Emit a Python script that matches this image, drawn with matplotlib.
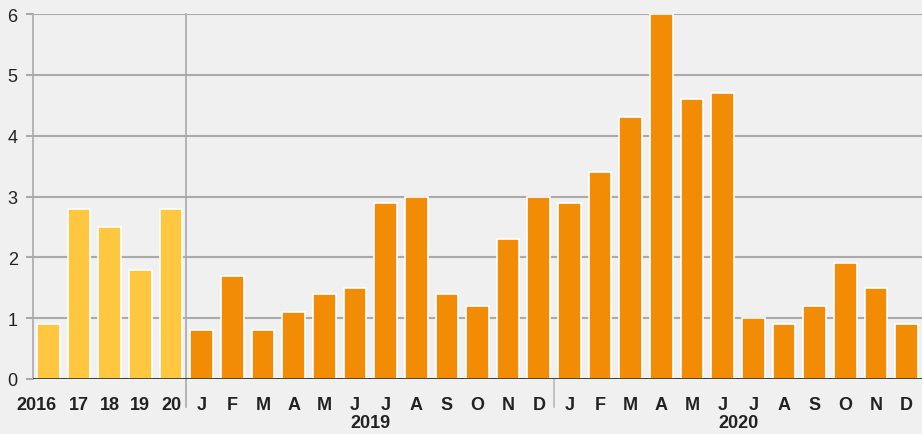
import matplotlib
matplotlib.use("Agg")
import matplotlib.pyplot as plt
from matplotlib.lines import Line2D
from matplotlib.transforms import ScaledTranslation

plt.rcParams['font.family'] = ['Liberation Sans', 'DejaVu Sans']

year_labels = ["2016", "17", "18", "19", "20"]
year_values = [0.9, 2.8, 2.5, 1.8, 2.8]
month_labels = ["J", "F", "M", "A", "M", "J", "J", "A", "S", "O", "N", "D"]
values_2019 = [0.8, 1.7, 0.8, 1.1, 1.4, 1.5, 2.9, 3.0, 1.4, 1.2, 2.3, 3.0]
values_2020 = [2.9, 3.4, 4.3, 6.0, 4.6, 4.7, 1.0, 0.9, 1.2, 1.9, 1.5, 0.9]
group_labels = ["2019", "2020"]
y_ticks = [0, 1, 2, 3, 4, 5, 6]

yellow = "#FFC73F"
orange = "#F28C04"
bg = "#F0F0F0"
grid_c = "#AAAAAA"

labels = year_labels + month_labels + month_labels
values = year_values + values_2019 + values_2020
colors = [yellow] * len(year_values) + [orange] * (len(values_2019) + len(values_2020))
x = list(range(len(values)))

fig = plt.figure(figsize=(9.22, 4.35), dpi=100, facecolor=bg)
ax = fig.add_axes([33 / 922, 55 / 435, 889 / 922, 365 / 435])
ax.set_facecolor(bg)

ax.bar(x, values, width=0.74, color=colors, edgecolor="white", linewidth=1.2, zorder=3)

ax.set_xlim(-0.5, len(values) - 0.5)
ax.set_ylim(0, 6)
ax.set_yticks(y_ticks)
ax.set_yticklabels([str(t) for t in y_ticks])
ax.yaxis.grid(True, color=grid_c, linewidth=1.5, zorder=0)
ax.set_axisbelow(True)

for s in ["top", "right", "bottom"]:
    ax.spines[s].set_visible(False)
ax.spines["left"].set_color(grid_c)
ax.spines["left"].set_linewidth(1.2)

ax.tick_params(axis="y", length=5, width=1.5, color=grid_c, pad=6, labelsize=13, labelcolor="#222222")
ax.set_xticks(x)
ax.set_xticklabels(labels, fontweight="bold", fontsize=13, color="#222222")
ax.tick_params(axis="x", length=0, pad=12)

# shift the first label left like the reference
first = ax.get_xticklabels()[0]
first.set_transform(first.get_transform() + ScaledTranslation(-0.115, 0, fig.dpi_scale_trans))

# zero line
ax.axhline(0, color="#333333", linewidth=2, zorder=4)

# separators
n_years = len(year_values)
sep1 = n_years - 0.5
sep2 = n_years + len(values_2019) - 0.5
ax.add_line(Line2D([sep1, sep1], [-0.46, 6], color=grid_c, linewidth=1.2, clip_on=False, zorder=2))
ax.add_line(Line2D([sep2, sep2], [-0.46, 0], color="#BBBBBB", linewidth=1.2, clip_on=False, zorder=2))

# group labels
c2019 = n_years + (len(values_2019) - 1) / 2
c2020 = n_years + len(values_2019) + (len(values_2020) - 1) / 2
for cx, lab in zip([c2019, c2020], group_labels):
    ax.text(cx, -0.71, lab, ha="center", va="center", fontweight="bold", fontsize=13, color="#222222")

fig.savefig("out.png", dpi=100, facecolor=bg)
